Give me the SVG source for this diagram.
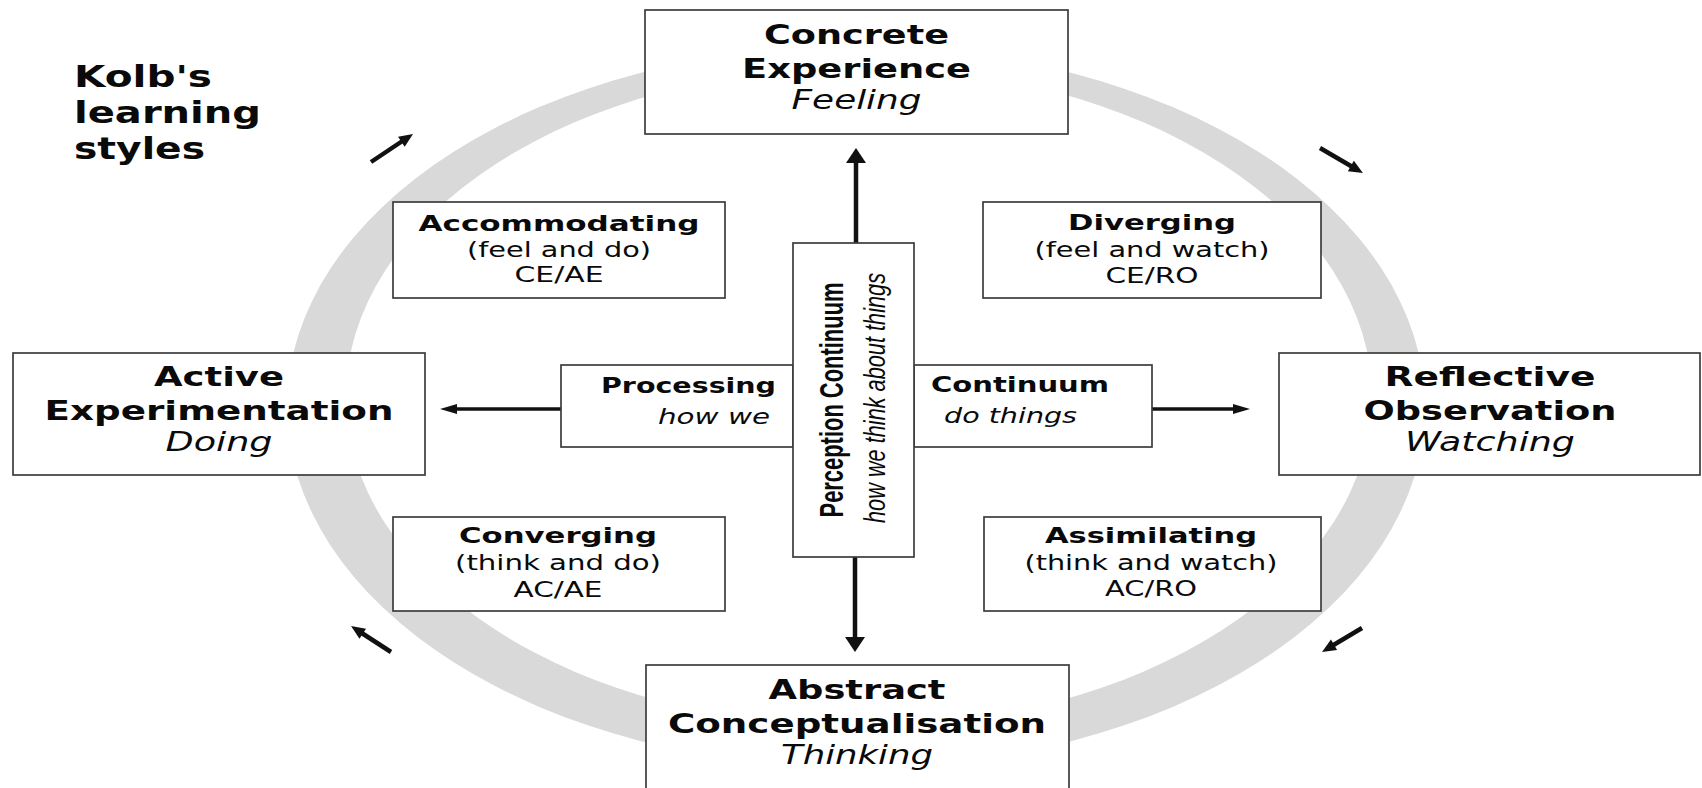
<svg xmlns="http://www.w3.org/2000/svg" width="1702" height="788" viewBox="0 0 1702 788">
<style>
.box{fill:#fff;stroke:#3c3c3c;stroke-width:1.7}
.ring{fill:#d9d9d9;fill-rule:evenodd}
.t{font-family:"DejaVu Sans",Verdana,sans-serif;fill:#0a0a0a;text-anchor:middle}
.b{font-weight:bold}
.i{font-style:italic}
.h1{font-size:26px}
.h2{font-size:21px}
.kolb{font-size:31px;text-anchor:start}
.st{text-anchor:start}
.en{text-anchor:end}
.v{font-family:"Liberation Sans",Arial,sans-serif;fill:#0a0a0a;text-anchor:middle}
.ln{stroke:#111;fill:none}
.thick{stroke-width:4.5}
.med{stroke-width:3.5}
</style>
<defs>
<marker id="hv" markerUnits="userSpaceOnUse" markerWidth="20" markerHeight="24" refX="5" refY="10" orient="auto" overflow="visible"><path d="M0,0 L15,10 L0,20 z" fill="#111"/></marker>
<marker id="hh" markerUnits="userSpaceOnUse" markerWidth="20" markerHeight="12" refX="7" refY="5" orient="auto" overflow="visible"><path d="M0,0 L17,5 L0,10 z" fill="#111"/></marker>
<marker id="hd" markerUnits="userSpaceOnUse" markerWidth="16" markerHeight="14" refX="4" refY="6" orient="auto" overflow="visible"><path d="M0,0 L14,6 L0,12 z" fill="#111"/></marker>
</defs>
<rect width="1702" height="788" fill="#fff"/>
<path class="ring" d="M287,407 a569,361 0 1,0 1138,0 a569,361 0 1,0 -1138,0 Z M346,397 a513,330 0 1,0 1026,0 a513,330 0 1,0 -1026,0 Z"/>

<g id="connectors">
<line class="ln thick" x1="856" y1="243" x2="856" y2="158" marker-end="url(#hv)"/>
<line class="ln thick" x1="855" y1="557" x2="855" y2="642" marker-end="url(#hv)"/>
<line class="ln med" x1="561" y1="409" x2="450" y2="409" marker-end="url(#hh)"/>
<line class="ln med" x1="1152" y1="409" x2="1240" y2="409" marker-end="url(#hh)"/>
<line class="ln thick" x1="371" y1="162" x2="404.7" y2="139.5" marker-end="url(#hd)"/>
<line class="ln thick" x1="1320" y1="148" x2="1354.3" y2="168" marker-end="url(#hd)"/>
<line class="ln thick" x1="391" y1="652" x2="359.4" y2="631.5" marker-end="url(#hd)"/>
<line class="ln thick" x1="1362" y1="628" x2="1330.6" y2="646.8" marker-end="url(#hd)"/>
</g>

<g id="title">
<text class="t b kolb" x="74" y="87" textLength="138" lengthAdjust="spacingAndGlyphs">Kolb's</text>
<text class="t b kolb" x="74" y="123" textLength="187" lengthAdjust="spacingAndGlyphs">learning</text>
<text class="t b kolb" x="74" y="159" textLength="131" lengthAdjust="spacingAndGlyphs">styles</text>
</g>

<g id="concrete">
<rect class="box" x="645" y="10" width="423" height="124"/>
<text class="t b h1" x="856.5" y="44" textLength="185" lengthAdjust="spacingAndGlyphs">Concrete</text>
<text class="t b h1" x="856.5" y="78" textLength="229" lengthAdjust="spacingAndGlyphs">Experience</text>
<text class="t i h1" x="856.5" y="109" textLength="130" lengthAdjust="spacingAndGlyphs">Feeling</text>
</g>

<g id="active">
<rect class="box" x="13" y="353" width="412" height="122"/>
<text class="t b h1" x="219" y="386" textLength="130" lengthAdjust="spacingAndGlyphs">Active</text>
<text class="t b h1" x="219" y="420" textLength="349" lengthAdjust="spacingAndGlyphs">Experimentation</text>
<text class="t i h1" x="219" y="451" textLength="107" lengthAdjust="spacingAndGlyphs">Doing</text>
</g>

<g id="reflective">
<rect class="box" x="1279" y="353" width="421" height="122"/>
<text class="t b h1" x="1490" y="386" textLength="211" lengthAdjust="spacingAndGlyphs">Reflective</text>
<text class="t b h1" x="1490" y="420" textLength="253" lengthAdjust="spacingAndGlyphs">Observation</text>
<text class="t i h1" x="1490" y="451" textLength="170" lengthAdjust="spacingAndGlyphs">Watching</text>
</g>

<g id="abstract">
<rect class="box" x="646" y="665" width="423" height="140"/>
<text class="t b h1" x="857" y="699" textLength="177" lengthAdjust="spacingAndGlyphs">Abstract</text>
<text class="t b h1" x="857" y="733" textLength="378" lengthAdjust="spacingAndGlyphs">Conceptualisation</text>
<text class="t i h1" x="857" y="764" textLength="152" lengthAdjust="spacingAndGlyphs">Thinking</text>
</g>

<g id="accommodating">
<rect class="box" x="393" y="202" width="332" height="96"/>
<text class="t b h2" x="559" y="231" textLength="281" lengthAdjust="spacingAndGlyphs">Accommodating</text>
<text class="t h2" x="559" y="257" textLength="184" lengthAdjust="spacingAndGlyphs">(feel and do)</text>
<text class="t h2" x="559" y="282" textLength="89" lengthAdjust="spacingAndGlyphs">CE/AE</text>
</g>

<g id="diverging">
<rect class="box" x="983" y="202" width="338" height="96"/>
<text class="t b h2" x="1152" y="230" textLength="168" lengthAdjust="spacingAndGlyphs">Diverging</text>
<text class="t h2" x="1152" y="257" textLength="235" lengthAdjust="spacingAndGlyphs">(feel and watch)</text>
<text class="t h2" x="1152" y="283" textLength="93" lengthAdjust="spacingAndGlyphs">CE/RO</text>
</g>

<g id="converging">
<rect class="box" x="393" y="517" width="332" height="94"/>
<text class="t b h2" x="558" y="543" textLength="198" lengthAdjust="spacingAndGlyphs">Converging</text>
<text class="t h2" x="558" y="570" textLength="206" lengthAdjust="spacingAndGlyphs">(think and do)</text>
<text class="t h2" x="558" y="597" textLength="89" lengthAdjust="spacingAndGlyphs">AC/AE</text>
</g>

<g id="assimilating">
<rect class="box" x="984" y="517" width="337" height="94"/>
<text class="t b h2" x="1151" y="543" textLength="212" lengthAdjust="spacingAndGlyphs">Assimilating</text>
<text class="t h2" x="1151" y="570" textLength="253" lengthAdjust="spacingAndGlyphs">(think and watch)</text>
<text class="t h2" x="1151" y="596" textLength="92" lengthAdjust="spacingAndGlyphs">AC/RO</text>
</g>

<g id="processing">
<rect class="box" x="561" y="365" width="232" height="82"/>
<text class="t b h2 en" x="776" y="393" textLength="175" lengthAdjust="spacingAndGlyphs">Processing</text>
<text class="t i h2 en" x="770" y="424" textLength="112" lengthAdjust="spacingAndGlyphs">how we</text>
</g>

<g id="continuum">
<rect class="box" x="914" y="365" width="238" height="82"/>
<text class="t b h2 st" x="931" y="392" textLength="178" lengthAdjust="spacingAndGlyphs">Continuum</text>
<text class="t i h2 st" x="944" y="423" textLength="133" lengthAdjust="spacingAndGlyphs">do things</text>
</g>

<g id="perception">
<rect class="box" x="793" y="243" width="121" height="314"/>
<text class="v b" font-size="33" transform="translate(843,400) rotate(-90)" textLength="235" lengthAdjust="spacingAndGlyphs">Perception Continuum</text>
<text class="v i" font-size="29" transform="translate(885,398) rotate(-90)" textLength="250" lengthAdjust="spacingAndGlyphs">how we think about things</text>
</g>
</svg>
